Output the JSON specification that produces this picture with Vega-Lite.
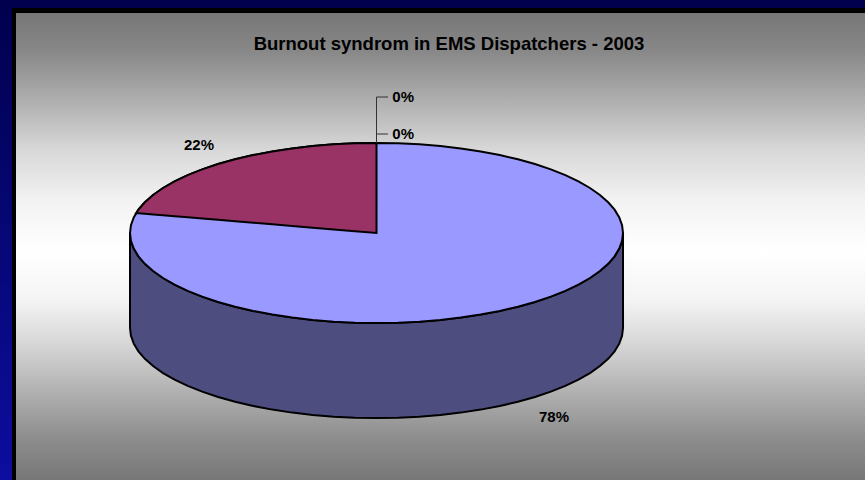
{
"$schema":"https://vega.github.io/schema/vega-lite/v6.json",
"autosize":{"type":"fit","contains":"padding"},
"width":865,"height":480,"padding":0,"background":"#000060",
"config":{"view":{"stroke":null}},
"datasets":{
"slide":[{"part":"slide","x0":-1.5274,"x1":1.9817,"y0":2.5889,"y1":-2.7444}],
"frame":[{"part":"border","x0":-1.4787,"x1":1.9817,"y0":2.5,"y1":-2.7444}],
"panel":[{"part":"panel","x0":-1.4625,"x1":1.9817,"y0":2.444,"y1":-2.7444}],
"rim":[
{"u":-1,"top":0,"lower":0,"bottom":-1.056},{"u":-0.9962,"top":0.0872,"lower":-0.0872,"bottom":-1.1432},{"u":-0.9848,"top":0.1736,"lower":-0.1736,"bottom":-1.2296},{"u":-0.9659,"top":0.2588,"lower":-0.2588,"bottom":-1.3148},{"u":-0.9397,"top":0.342,"lower":-0.342,"bottom":-1.398},{"u":-0.9063,"top":0.4226,"lower":-0.4226,"bottom":-1.4786},{"u":-0.866,"top":0.5,"lower":-0.5,"bottom":-1.556},{"u":-0.8192,"top":0.5736,"lower":-0.5736,"bottom":-1.6296},{"u":-0.766,"top":0.6428,"lower":-0.6428,"bottom":-1.6988},{"u":-0.7071,"top":0.7071,"lower":-0.7071,"bottom":-1.7631},{"u":-0.6428,"top":0.766,"lower":-0.766,"bottom":-1.822},{"u":-0.5736,"top":0.8192,"lower":-0.8192,"bottom":-1.8752},{"u":-0.5,"top":0.866,"lower":-0.866,"bottom":-1.922},{"u":-0.4226,"top":0.9063,"lower":-0.9063,"bottom":-1.9623},{"u":-0.342,"top":0.9397,"lower":-0.9397,"bottom":-1.9957},{"u":-0.2588,"top":0.9659,"lower":-0.9659,"bottom":-2.0219},{"u":-0.1736,"top":0.9848,"lower":-0.9848,"bottom":-2.0408},{"u":-0.0872,"top":0.9962,"lower":-0.9962,"bottom":-2.0522},{"u":0,"top":1,"lower":-1,"bottom":-2.056},
{"u":0.0872,"top":0.9962,"lower":-0.9962,"bottom":-2.0522},{"u":0.1736,"top":0.9848,"lower":-0.9848,"bottom":-2.0408},{"u":0.2588,"top":0.9659,"lower":-0.9659,"bottom":-2.0219},{"u":0.342,"top":0.9397,"lower":-0.9397,"bottom":-1.9957},{"u":0.4226,"top":0.9063,"lower":-0.9063,"bottom":-1.9623},{"u":0.5,"top":0.866,"lower":-0.866,"bottom":-1.922},{"u":0.5736,"top":0.8192,"lower":-0.8192,"bottom":-1.8752},{"u":0.6428,"top":0.766,"lower":-0.766,"bottom":-1.822},{"u":0.7071,"top":0.7071,"lower":-0.7071,"bottom":-1.7631},{"u":0.766,"top":0.6428,"lower":-0.6428,"bottom":-1.6988},{"u":0.8192,"top":0.5736,"lower":-0.5736,"bottom":-1.6296},{"u":0.866,"top":0.5,"lower":-0.5,"bottom":-1.556},{"u":0.9063,"top":0.4226,"lower":-0.4226,"bottom":-1.4786},{"u":0.9397,"top":0.342,"lower":-0.342,"bottom":-1.398},{"u":0.9659,"top":0.2588,"lower":-0.2588,"bottom":-1.3148},{"u":0.9848,"top":0.1736,"lower":-0.1736,"bottom":-1.2296},{"u":0.9962,"top":0.0872,"lower":-0.0872,"bottom":-1.1432},{"u":1,"top":0,"lower":0,"bottom":-1.056}],
"wedge":[
{"u":-0.975,"top":0.222,"lower":0.222},{"u":-0.9659,"top":0.2588,"lower":0.2199},{"u":-0.9397,"top":0.342,"lower":0.214},{"u":-0.9063,"top":0.4226,"lower":0.2064},{"u":-0.866,"top":0.5,"lower":0.1972},{"u":-0.8192,"top":0.5736,"lower":0.1865},{"u":-0.766,"top":0.6428,"lower":0.1744},{"u":-0.7071,"top":0.7071,"lower":0.161},{"u":-0.6428,"top":0.766,"lower":0.1464},{"u":-0.5736,"top":0.8192,"lower":0.1306},{"u":-0.5,"top":0.866,"lower":0.1139},{"u":-0.4226,"top":0.9063,"lower":0.0962},{"u":-0.342,"top":0.9397,"lower":0.0779},{"u":-0.2588,"top":0.9659,"lower":0.0589},{"u":-0.1736,"top":0.9848,"lower":0.0395},{"u":-0.0872,"top":0.9962,"lower":0.0199},{"u":0,"top":1,"lower":0}],
"leaders":[{"x0":0,"x1":0,"y0":1,"y1":1.511},{"x0":0,"x1":0.047,"y0":1.511,"y1":1.511},{"x0":0,"x1":0.047,"y0":1.1,"y1":1.1}],
"labels":[{"label":"22%","u":-0.72,"v":0.978},{"label":"78%","u":0.72,"v":-2.044},{"label":"0%","u":0.108,"v":1.511},{"label":"0%","u":0.108,"v":1.1}],
"titleRow":[{"label":"Burnout syndrom in EMS Dispatchers - 2003","u":0.294,"v":2.1}]
},
"layer":[
{"data":{"name":"slide"},"mark":{"type":"rect","color":{"gradient":"linear","x1":0,"y1":0,"x2":0,"y2":1,"stops":[{"offset":0,"color":"#00004d"},{"offset":1,"color":"#0d0da0"}]}},"encoding":{"x":{"field":"x0","type":"quantitative","scale":{"domain":[-1.5274,1.9817],"nice":false,"zero":false},"axis":null},"x2":{"field":"x1"},"y":{"field":"y0","type":"quantitative","scale":{"domain":[-2.7444,2.5889],"nice":false,"zero":false},"axis":null},"y2":{"field":"y1"}}},
{"data":{"name":"frame"},"mark":{"type":"rect","color":"#000000"},"encoding":{"x":{"field":"x0","type":"quantitative"},"x2":{"field":"x1"},"y":{"field":"y0","type":"quantitative"},"y2":{"field":"y1"}}},
{"data":{"name":"panel"},"mark":{"type":"rect","color":{"gradient":"linear","x1":0,"y1":0,"x2":0,"y2":1,"stops":[{"offset":0,"color":"#777777"},{"offset":0.079,"color":"#878787"},{"offset":0.186,"color":"#aeaeae"},{"offset":0.293,"color":"#d8d8d8"},{"offset":0.4,"color":"#f2f2f2"},{"offset":0.507,"color":"#ffffff"},{"offset":0.615,"color":"#f4f4f4"},{"offset":0.722,"color":"#d2d2d2"},{"offset":0.829,"color":"#aaaaaa"},{"offset":0.914,"color":"#8c8c8c"},{"offset":1,"color":"#777777"}]}},"encoding":{"x":{"field":"x0","type":"quantitative"},"x2":{"field":"x1"},"y":{"field":"y0","type":"quantitative"},"y2":{"field":"y1"}}},
{"data":{"name":"rim"},"mark":{"type":"area","color":"#4D4D80","stroke":"#000000","strokeWidth":2},"encoding":{"x":{"field":"u","type":"quantitative"},"y":{"field":"lower","type":"quantitative"},"y2":{"field":"bottom"}}},
{"data":{"name":"rim"},"mark":{"type":"area","color":"#9999FF","stroke":"#000000","strokeWidth":2},"encoding":{"x":{"field":"u","type":"quantitative"},"y":{"field":"top","type":"quantitative"},"y2":{"field":"lower"}}},
{"data":{"name":"wedge"},"mark":{"type":"area","color":"#993366","stroke":"#000000","strokeWidth":2},"encoding":{"x":{"field":"u","type":"quantitative"},"y":{"field":"top","type":"quantitative"},"y2":{"field":"lower"}}},
{"data":{"name":"leaders"},"mark":{"type":"rule","color":"#333333","strokeWidth":1},"encoding":{"x":{"field":"x0","type":"quantitative"},"x2":{"field":"x1"},"y":{"field":"y0","type":"quantitative"},"y2":{"field":"y1"}}},
{"data":{"name":"labels"},"mark":{"type":"text","font":"Liberation Sans","fontWeight":"bold","fontSize":15,"color":"#000000"},"encoding":{"x":{"field":"u","type":"quantitative"},"y":{"field":"v","type":"quantitative"},"text":{"field":"label"}}},
{"data":{"name":"titleRow"},"mark":{"type":"text","font":"Liberation Sans","fontWeight":"bold","fontSize":18.5,"color":"#000000"},"encoding":{"x":{"field":"u","type":"quantitative"},"y":{"field":"v","type":"quantitative"},"text":{"field":"label"}}}
]
}
